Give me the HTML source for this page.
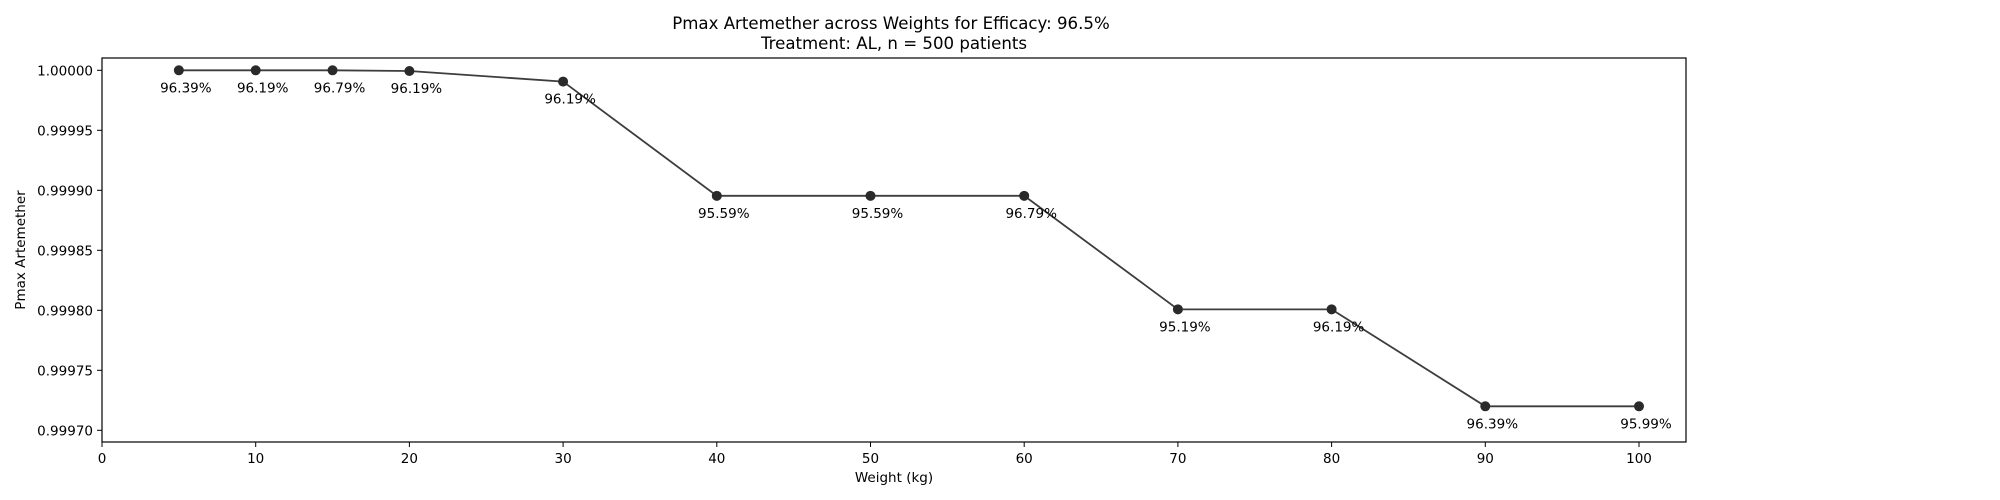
<!DOCTYPE html>
<html><head><meta charset="utf-8"><style>
body{margin:0;background:#fff;}
svg{display:block;font-family:"DejaVu Sans","Liberation Sans",sans-serif;}
</style></head><body>
<svg id="chart" width="2000" height="500" viewBox="0 0 2000 500">
<text x="891" y="29" text-anchor="middle" font-size="16.6" fill="#000">Pmax Artemether across Weights for Efficacy: 96.5%</text>
<text x="894" y="49" text-anchor="middle" font-size="16.6" fill="#000">Treatment: AL, n = 500 patients</text>
<g id="axes"></g>
<g id="marks"></g>
<rect x="102" y="58" width="1584" height="384" fill="none" stroke="#000" stroke-width="1.2"/>
<text x="894" y="482" text-anchor="middle" font-size="13.5">Weight (kg)</text>
<text transform="translate(25,250) rotate(-90)" text-anchor="middle" font-size="13.5">Pmax Artemether</text>
</svg>
<script>
const weights=[5,10,15,20,30,40,50,60,70,80,90,100];
const pmax=[1.0,1.0,1.0,0.9999994,0.9999906,0.9998954,0.9998954,0.9998954,0.9998008,0.9998008,0.99972,0.99972];
const efficacyLabels=["96.39%","96.19%","96.79%","96.19%","96.19%","95.59%","95.59%","96.79%","95.19%","96.19%","96.39%","95.99%"];
const xTicks=[0,10,20,30,40,50,60,70,80,90,100];
const yTicks=[0.9997,0.99975,0.9998,0.99985,0.9999,0.99995,1.0];
const NS="http://www.w3.org/2000/svg";
const xs=v=>102+v*15.37;
const ys=v=>70.3+(1-v)*1200000;
const axes=document.getElementById('axes'),marks=document.getElementById('marks');
function mk(tag,attrs,parent,text){const e=document.createElementNS(NS,tag);for(const k in attrs)e.setAttribute(k,attrs[k]);if(text!=null)e.textContent=text;parent.appendChild(e);return e;}
xTicks.forEach(t=>{
  const l=mk('line',{x1:xs(t),x2:xs(t),y1:442,y2:447,stroke:'#000','stroke-width':1},axes);
  
  
  const tx=mk('text',{x:xs(t),y:463,'text-anchor':'middle','font-size':13.5},axes,String(t));
  
  
});
yTicks.forEach(t=>{
  const l=mk('line',{x1:97,x2:102,y1:ys(t),y2:ys(t),stroke:'#000','stroke-width':1},axes);
  
  
  const tx=mk('text',{x:93,y:ys(t)+5,'text-anchor':'end','font-size':13.5},axes,t.toFixed(5));
  
  
});
const pts=weights.map((w,i)=>xs(w)+','+ys(pmax[i])).join(' ');
const line=mk('polyline',{points:pts,fill:'none',stroke:'#333','stroke-width':1.8,'stroke-opacity':0.95},marks);


weights.forEach((w,i)=>{
  const c=mk('circle',{cx:xs(w),cy:ys(pmax[i]),r:5,fill:'#2a2a2a'},marks);
  
  
  const t=mk('text',{x:xs(w)+7,y:ys(pmax[i])+22,'text-anchor':'middle','font-size':13.5},marks,efficacyLabels[i]);
  
  
});
</script>
</body></html>
